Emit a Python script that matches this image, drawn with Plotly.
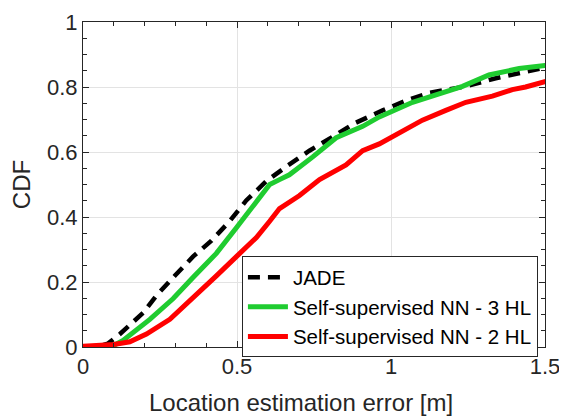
import plotly.graph_objects as go

# JADE
jade_x = [0, 0.05, 0.08, 0.12, 0.195, 0.239, 0.298, 0.357, 0.417, 0.476, 0.53, 0.595, 0.66,
          0.735, 0.806, 0.881, 0.973, 1.049, 1.124, 1.243, 1.34, 1.437, 1.5, 1.55]
jade_y = [0, 0.002, 0.01, 0.04, 0.105, 0.159, 0.219, 0.278, 0.327, 0.387, 0.451, 0.51, 0.555,
          0.604, 0.644, 0.688, 0.728, 0.758, 0.782, 0.802, 0.827, 0.847, 0.862, 0.87]

# Self-supervised NN - 3 HL
nn3_x = [0, 0.08, 0.1, 0.13, 0.217, 0.293, 0.357, 0.433, 0.498, 0.552, 0.573, 0.606, 0.638,
         0.67, 0.746, 0.822, 0.908, 0.962, 1.07, 1.146, 1.232, 1.318, 1.416, 1.5, 1.55]
nn3_y = [0, 0, 0.005, 0.02, 0.085, 0.149, 0.214, 0.288, 0.367, 0.436, 0.461, 0.50, 0.515,
         0.53, 0.585, 0.644, 0.679, 0.708, 0.753, 0.777, 0.802, 0.837, 0.857, 0.866, 0.872]

# Self-supervised NN - 2 HL
nn2_x = [0, 0.05, 0.1, 0.152, 0.206, 0.282, 0.357, 0.433, 0.498, 0.563, 0.606, 0.638, 0.703,
         0.768, 0.854, 0.908, 0.962, 1.027, 1.102, 1.178, 1.243, 1.329, 1.394, 1.437, 1.5, 1.55]
nn2_y = [0.002, 0.004, 0.008, 0.016, 0.04, 0.085, 0.149, 0.219, 0.278, 0.337, 0.387, 0.426, 0.466,
         0.515, 0.56, 0.604, 0.625, 0.659, 0.698, 0.728, 0.753, 0.772, 0.792, 0.80, 0.817, 0.83]

x_ticks = [0, 0.5, 1, 1.5]
x_tick_labels = ["0", "0.5", "1", "1.5"]
y_ticks = [0, 0.2, 0.4, 0.6, 0.8, 1]
y_tick_labels = ["0", "0.2", "0.4", "0.6", "0.8", "1"]
x_title = "Location estimation error [m]"
y_title = "CDF"

FONT = "Liberation Sans, Arial, Helvetica, sans-serif"

fig = go.Figure()
fig.add_trace(go.Scatter(x=jade_x, y=jade_y, mode="lines", name="JADE",
                         line=dict(color="black", width=4.5, dash="12px,8px")))
fig.add_trace(go.Scatter(x=nn3_x, y=nn3_y, mode="lines", name="Self-supervised NN - 3 HL",
                         line=dict(color="#1fcc30", width=5)))
fig.add_trace(go.Scatter(x=nn2_x, y=nn2_y, mode="lines", name="Self-supervised NN - 2 HL",
                         line=dict(color="#ff0000", width=5)))

axis_common = dict(
    showline=True, linecolor="#262626", linewidth=1, mirror="allticks",
    ticks="inside", ticklen=6, tickcolor="#262626",
    showgrid=True, gridcolor="#e3e3e3", gridwidth=1, zeroline=False,
    ticklabeloverflow="allow",
    tickfont=dict(family=FONT, size=22, color="#262626"),
)

# page body has an 8px margin, so the figure is 8px smaller than the window
fig.update_layout(
    width=559, height=409,
    margin=dict(l=75, r=22, t=2, b=70),
    paper_bgcolor="white", plot_bgcolor="white",
    font=dict(family=FONT, color="#262626"),
    xaxis=dict(range=[0, 1.5], tickvals=x_ticks, ticktext=x_tick_labels,
               minor=dict(dtick=0.1, tick0=0, ticks="inside", ticklen=4, tickcolor="#262626", showgrid=False),
               **axis_common),
    yaxis=dict(range=[0, 1], tickvals=y_ticks, ticktext=y_tick_labels,
               title=dict(text=y_title, font=dict(size=24), standoff=10),
               minor=dict(dtick=0.05, tick0=0, ticks="inside", ticklen=4, tickcolor="#262626", showgrid=False),
               **axis_common),
    legend=dict(x=0.344, y=0.279, xanchor="left", yanchor="top",
                bgcolor="white", bordercolor="#262626", borderwidth=1,
                font=dict(size=20.5, color="black", family=FONT), tracegroupgap=0, itemwidth=40),
    showlegend=True,
    annotations=[dict(text=x_title, xref="paper", yref="paper", x=0.472, y=0,
                      xanchor="center", yanchor="top", yshift=-40, showarrow=False,
                      font=dict(size=24, family=FONT, color="#262626"))],
)

fig.write_html("out.html")
